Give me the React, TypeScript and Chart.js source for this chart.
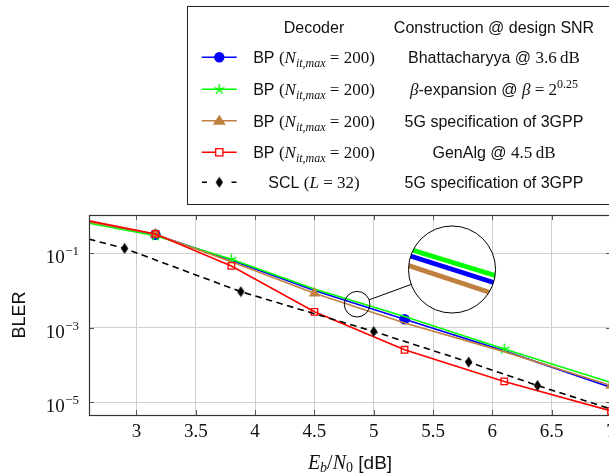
import React, { useEffect, useRef } from 'react';
import { Chart, registerables } from 'chart.js';

Chart.register(...registerables);

// ---------------- data ----------------
const ebn0BP = [2.6, 3.16, 3.8, 4.5, 5.26, 6.1, 7.0];
const blerBhattacharyya = [0.692, 0.316, 0.0646, 0.0100, 1.70e-3, 2.40e-4, 2.51e-5];
const blerBetaExpansion = [0.646, 0.295, 0.0692, 0.0110, 2.00e-3, 2.69e-4, 3.39e-5];
const blerFiveGBP = [0.692, 0.324, 0.0589, 8.51e-3, 1.35e-3, 2.29e-4, 2.82e-5];
const blerGenAlg = [0.741, 0.331, 0.0457, 2.69e-3, 2.57e-4, 3.63e-5, 5.89e-6];
const ebn0SCL = [2.6, 2.9, 3.88, 5.0, 5.8, 6.38, 7.0];
const blerSCL = [0.240, 0.135, 9.33e-3, 7.94e-4, 1.20e-4, 2.82e-5, 6.61e-6];

const xTickValues = [3, 3.5, 4, 4.5, 5, 5.5, 6, 6.5, 7];
const xTickLabels = ['3', '3.5', '4', '4.5', '5', '5.5', '6', '6.5', '7'];
const yTickValues = [1e-5, 1e-3, 1e-1];
const yTickExponents = ['\u22125', '\u22123', '\u22121'];

// marker indices (which points carry a mark)
const marksBhattacharyya = [1, 4];
const marksBeta = [1, 2, 5];
const marksFiveG = [1, 3, 6];
const marksGenAlg = [1, 2, 3, 4, 5, 6];
const marksSCL = [1, 2, 3, 4, 5];

// spy (magnifier) region in data coordinates
const spySource = { x: 4.86, y: 4.3e-3 };
const spyTarget = { x: 5.66, y: 0.0367 };

const SANS = '"Liberation Sans", Arial, Helvetica, sans-serif';
const SERIF = '"Liberation Serif", "Times New Roman", serif';

const COLORS = {
  blue: '#0000ff',
  green: '#00ff00',
  brown: '#bf8040',
  red: '#ff0000',
  black: '#000000',
};

const LINE_W = 1.6;

type Run = { t: string; f: string; dy?: number };

const bpRuns = (): Run[] => [
  { t: 'BP ', f: `16px ${SANS}` },
  { t: '(', f: `17px ${SERIF}` },
  { t: 'N', f: `italic 17px ${SERIF}` },
  { t: 'it,max', f: `italic 12px ${SERIF}`, dy: 4 },
  { t: ' = 200)', f: `17px ${SERIF}` },
];

const legendDecoders: Run[][] = [
  bpRuns(),
  bpRuns(),
  bpRuns(),
  bpRuns(),
  [
    { t: 'SCL ', f: `16px ${SANS}` },
    { t: '(', f: `17px ${SERIF}` },
    { t: 'L', f: `italic 17px ${SERIF}` },
    { t: ' = 32)', f: `17px ${SERIF}` },
  ],
];

const legendConstructions: Run[][] = [
  [
    { t: 'Bhattacharyya @ ', f: `16px ${SANS}` },
    { t: '3.6\u2009dB', f: `17px ${SERIF}` },
  ],
  [
    { t: '\u03b2', f: `italic 17px ${SERIF}` },
    { t: '-expansion @ ', f: `16px ${SANS}` },
    { t: '\u03b2', f: `italic 17px ${SERIF}` },
    { t: ' = 2', f: `17px ${SERIF}` },
    { t: '0.25', f: `12px ${SERIF}`, dy: -7 },
  ],
  [{ t: '5G specification of 3GPP', f: `16px ${SANS}` }],
  [
    { t: 'GenAlg @ ', f: `16px ${SANS}` },
    { t: '4.5\u2009dB', f: `17px ${SERIF}` },
  ],
  [{ t: '5G specification of 3GPP', f: `16px ${SANS}` }],
];

const legendStyles = ['circle', 'star', 'triangle', 'square', 'diamond'];
const legendColors = [COLORS.blue, COLORS.green, COLORS.brown, COLORS.red, COLORS.black];

function runsWidth(ctx: CanvasRenderingContext2D, runs: Run[]) {
  let w = 0;
  for (const r of runs) {
    ctx.font = r.f;
    w += ctx.measureText(r.t).width;
  }
  return w;
}

function drawRuns(ctx: CanvasRenderingContext2D, runs: Run[], cx: number, base: number) {
  const w = runsWidth(ctx, runs);
  let x = cx - w / 2;
  ctx.textAlign = 'left';
  ctx.textBaseline = 'alphabetic';
  for (const r of runs) {
    ctx.font = r.f;
    ctx.fillText(r.t, x, base + (r.dy || 0));
    x += ctx.measureText(r.t).width;
  }
}

function makeDiamond(color: string) {
  const c = document.createElement('canvas');
  c.width = 9;
  c.height = 12;
  const g = c.getContext('2d')!;
  g.fillStyle = color;
  g.beginPath();
  g.moveTo(4.5, 0.5);
  g.lineTo(8.2, 6);
  g.lineTo(4.5, 11.5);
  g.lineTo(0.8, 6);
  g.closePath();
  g.fill();
  return c;
}

function makeStar(color: string) {
  const c = document.createElement('canvas');
  c.width = 13;
  c.height = 13;
  const g = c.getContext('2d')!;
  g.strokeStyle = color;
  g.lineWidth = 1.4;
  g.beginPath();
  for (let k = 0; k < 5; k++) {
    const a = -Math.PI / 2 + (k * 2 * Math.PI) / 5;
    g.moveTo(6.5, 6.5);
    g.lineTo(6.5 + 5.5 * Math.cos(a), 6.5 + 5.5 * Math.sin(a));
  }
  g.stroke();
  return c;
}

function drawMarker(
  ctx: CanvasRenderingContext2D,
  style: string,
  color: string,
  x: number,
  y: number,
  images: { diamond: HTMLCanvasElement; star: HTMLCanvasElement }
) {
  ctx.save();
  ctx.setLineDash([]);
  ctx.fillStyle = color;
  ctx.strokeStyle = color;
  if (style === 'circle') {
    ctx.beginPath();
    ctx.arc(x, y, 5.2, 0, Math.PI * 2);
    ctx.fill();
  } else if (style === 'star') {
    ctx.drawImage(images.star, x - images.star.width / 2, y - images.star.height / 2);
  } else if (style === 'triangle') {
    ctx.beginPath();
    ctx.moveTo(x, y - 6);
    ctx.lineTo(x + 6.5, y + 4);
    ctx.lineTo(x - 6.5, y + 4);
    ctx.closePath();
    ctx.fill();
  } else if (style === 'square') {
    ctx.lineWidth = 1.3;
    ctx.fillStyle = '#ffffff';
    ctx.fillRect(x - 3.6, y - 3.6, 7.2, 7.2);
    ctx.strokeRect(x - 3.6, y - 3.6, 7.2, 7.2);
  } else if (style === 'diamond') {
    ctx.drawImage(images.diamond, x - images.diamond.width / 2, y - images.diamond.height / 2);
  }
  ctx.restore();
}

const CANVAS_W = 640;
const CANVAS_H = 473;

export default function App() {
  const ref = useRef<HTMLCanvasElement | null>(null);

  useEffect(() => {
    document.body.style.margin = '0';
    document.body.style.overflow = 'hidden';
    const canvas = ref.current!;
    const diamond = makeDiamond(COLORS.black);
    const star = makeStar(COLORS.green);

    const markRadius = (marks: number[], r: number) => (c: any) => (marks.includes(c.dataIndex) ? r : 0);

    const mk = (xs: number[], ys: number[]) => xs.map((x, i) => ({ x, y: ys[i] }));

    const decorations = {
      id: 'decorations',
      beforeDraw(chart: any) {
        const ctx = chart.ctx as CanvasRenderingContext2D;
        ctx.save();
        ctx.fillStyle = '#ffffff';
        ctx.fillRect(0, 0, chart.width, chart.height);
        ctx.restore();
      },
      afterDraw(chart: any) {
        const ctx = chart.ctx as CanvasRenderingContext2D;
        const area = chart.chartArea;
        const xs = chart.scales.x;
        const ys = chart.scales.y;

        // ---- spy / magnifier ----
        const zoom = 3.4;
        const rSmall = 12.8;
        const sx = xs.getPixelForValue(spySource.x);
        const sy = ys.getPixelForValue(spySource.y);
        const tx = xs.getPixelForValue(spyTarget.x);
        const ty = ys.getPixelForValue(spyTarget.y);
        const rBig = rSmall * zoom;
        ctx.save();
        ctx.beginPath();
        ctx.arc(tx, ty, rBig, 0, Math.PI * 2);
        ctx.fillStyle = '#ffffff';
        ctx.fill();
        ctx.clip();
        const drawOrder = [0, 1, 2, 3, 4];
        for (const i of drawOrder) {
          const ds = chart.data.datasets[i];
          const meta = chart.getDatasetMeta(i);
          ctx.beginPath();
          meta.data.forEach((p: any, j: number) => {
            const X = tx + (p.x - sx) * zoom;
            const Y = ty + (p.y - sy) * zoom;
            if (j === 0) ctx.moveTo(X, Y);
            else ctx.lineTo(X, Y);
          });
          ctx.lineWidth = ds.borderWidth * zoom * 0.9;
          ctx.strokeStyle = ds.borderColor;
          ctx.setLineDash((ds.borderDash || []).map((d: number) => d * zoom));
          ctx.stroke();
        }
        ctx.restore();
        ctx.save();
        ctx.strokeStyle = '#000000';
        ctx.lineWidth = 1;
        ctx.beginPath();
        ctx.arc(sx, sy, rSmall, 0, Math.PI * 2);
        ctx.stroke();
        ctx.beginPath();
        ctx.arc(tx, ty, rBig, 0, Math.PI * 2);
        ctx.stroke();
        const dx = tx - sx;
        const dy = ty - sy;
        const d = Math.hypot(dx, dy);
        ctx.beginPath();
        ctx.moveTo(sx + (dx / d) * rSmall, sy + (dy / d) * rSmall);
        ctx.lineTo(tx - (dx / d) * rBig, ty - (dy / d) * rBig);
        ctx.stroke();
        ctx.restore();

        // ---- axis frame and tick marks ----
        ctx.save();
        ctx.strokeStyle = '#555555';
        ctx.lineWidth = 1;
        ctx.beginPath();
        for (const v of xTickValues) {
          const px = Math.round(xs.getPixelForValue(v)) + 0.5;
          ctx.moveTo(px, area.bottom);
          ctx.lineTo(px, area.bottom - 5);
          ctx.moveTo(px, area.top);
          ctx.lineTo(px, area.top + 5);
        }
        for (const v of yTickValues) {
          const py = Math.round(ys.getPixelForValue(v)) + 0.5;
          ctx.moveTo(area.left, py);
          ctx.lineTo(area.left + 5, py);
          ctx.moveTo(area.right, py);
          ctx.lineTo(area.right - 5, py);
        }
        ctx.stroke();
        ctx.strokeStyle = '#333333';
        ctx.lineWidth = 1.2;
        ctx.strokeRect(area.left + 0.5, area.top + 0.5, area.right - area.left - 1, area.bottom - area.top);
        ctx.restore();

        // ---- tick labels ----
        ctx.save();
        ctx.fillStyle = '#111111';
        ctx.textBaseline = 'alphabetic';
        ctx.textAlign = 'center';
        ctx.font = `19px ${SERIF}`;
        xTickValues.forEach((v, i) => {
          ctx.fillText(xTickLabels[i], xs.getPixelForValue(v), 437);
        });
        yTickValues.forEach((v, i) => {
          const py = ys.getPixelForValue(v);
          const right = 79;
          ctx.textAlign = 'right';
          ctx.font = `13px ${SERIF}`;
          const ew = ctx.measureText(yTickExponents[i]).width;
          ctx.fillText(yTickExponents[i], right, py + 2);
          ctx.font = `19px ${SERIF}`;
          ctx.fillText('10', right - ew - 0.5, py + 10);
        });
        ctx.restore();

        // ---- axis titles ----
        ctx.save();
        ctx.fillStyle = '#111111';
        ctx.translate(18.3, (area.top + area.bottom) / 2);
        ctx.rotate(-Math.PI / 2);
        ctx.textAlign = 'center';
        ctx.textBaseline = 'alphabetic';
        ctx.font = `18px ${SANS}`;
        ctx.fillText('BLER', 0, 6.5);
        ctx.restore();

        ctx.save();
        ctx.fillStyle = '#111111';
        drawRuns(
          ctx,
          [
            { t: 'E', f: `italic 20px ${SERIF}` },
            { t: 'b', f: `italic 14px ${SERIF}`, dy: 3 },
            { t: '/', f: `20px ${SERIF}` },
            { t: 'N', f: `italic 20px ${SERIF}` },
            { t: '0', f: `14px ${SERIF}`, dy: 3 },
            { t: ' [dB]', f: `19px ${SANS}` },
          ],
          (area.left + area.right) / 2,
          469
        );
        ctx.restore();

        // ---- legend ----
        ctx.save();
        ctx.fillStyle = '#ffffff';
        ctx.fillRect(187.5, 6.5, 600, 198);
        ctx.strokeStyle = '#222222';
        ctx.lineWidth = 1;
        ctx.strokeRect(187.5, 6.5, 600, 198);
        ctx.fillStyle = '#111111';
        const col1 = 314;
        const col2 = 494;
        ctx.font = `16px ${SANS}`;
        ctx.textAlign = 'center';
        ctx.textBaseline = 'alphabetic';
        ctx.fillText('Decoder', col1, 33.3);
        ctx.fillText('Construction @ design SNR', col2, 33.3);
        const rowY = [57.3, 89.3, 120.7, 152.3, 182.3];
        rowY.forEach((y, i) => {
          const color = legendColors[i];
          ctx.save();
          ctx.strokeStyle = color;
          ctx.lineWidth = LINE_W;
          ctx.beginPath();
          if (i === 4) {
            ctx.moveTo(202, y);
            ctx.lineTo(207, y);
            ctx.moveTo(231.5, y);
            ctx.lineTo(236.5, y);
          } else {
            ctx.moveTo(201.7, y);
            ctx.lineTo(236.7, y);
          }
          ctx.stroke();
          ctx.restore();
          drawMarker(ctx, legendStyles[i], color, 219.3, y, { diamond, star });
          ctx.fillStyle = '#111111';
          drawRuns(ctx, legendDecoders[i], col1, y + 6);
          drawRuns(ctx, legendConstructions[i], col2, y + 6);
        });
        ctx.restore();
      },
    };

    const chart = new Chart(canvas, {
      type: 'scatter',
      data: {
        datasets: [
          {
            label: 'BP, Bhattacharyya @ 3.6 dB',
            data: mk(ebn0BP, blerBhattacharyya),
            showLine: true,
            borderColor: COLORS.blue,
            backgroundColor: COLORS.blue,
            borderWidth: LINE_W,
            pointStyle: 'circle',
            pointRadius: markRadius(marksBhattacharyya, 5.3),
            pointBorderWidth: 0,
            order: 5,
          },
          {
            label: 'BP, beta-expansion',
            data: mk(ebn0BP, blerBetaExpansion),
            showLine: true,
            borderColor: COLORS.green,
            backgroundColor: COLORS.green,
            borderWidth: LINE_W,
            pointStyle: star as any,
            pointRadius: markRadius(marksBeta, 5.5),
            order: 4,
          },
          {
            label: 'BP, 5G 3GPP',
            data: mk(ebn0BP, blerFiveGBP),
            showLine: true,
            borderColor: COLORS.brown,
            backgroundColor: COLORS.brown,
            borderWidth: LINE_W,
            pointStyle: 'triangle',
            pointRadius: markRadius(marksFiveG, 6.5),
            pointBorderWidth: 0,
            order: 3,
          },
          {
            label: 'BP, GenAlg @ 4.5 dB',
            data: mk(ebn0BP, blerGenAlg),
            showLine: true,
            borderColor: COLORS.red,
            backgroundColor: 'rgba(0,0,0,0)',
            borderWidth: LINE_W,
            pointStyle: 'rect',
            pointRadius: markRadius(marksGenAlg, 4.6),
            pointBorderWidth: 1.3,
            pointBorderColor: COLORS.red,
            order: 2,
          },
          {
            label: 'SCL (L=32), 5G 3GPP',
            data: mk(ebn0SCL, blerSCL),
            showLine: true,
            borderColor: COLORS.black,
            backgroundColor: COLORS.black,
            borderWidth: LINE_W,
            borderDash: [6.5, 4.5],
            pointStyle: diamond as any,
            pointRadius: markRadius(marksSCL, 5),
            order: 1,
          },
        ] as any,
      },
      options: {
        responsive: false,
        animation: false,
        devicePixelRatio: 1,
        events: [],
        layout: { padding: { left: 89, top: 215, right: CANVAS_W - 611, bottom: CANVAS_H - 415 } },
        plugins: { legend: { display: false }, tooltip: { enabled: false } },
        elements: { line: { tension: 0 } },
        scales: {
          x: {
            type: 'linear',
            min: 2.6,
            max: 7,
            afterBuildTicks: (s: any) => {
              s.ticks = xTickValues.map((v) => ({ value: v }));
            },
            ticks: { display: false },
            grid: { color: '#d0d0d0', lineWidth: 1, drawTicks: false },
            border: { display: false },
          },
          y: {
            type: 'logarithmic',
            min: 4.56e-6,
            max: 1.066,
            afterBuildTicks: (s: any) => {
              s.ticks = yTickValues.map((v) => ({ value: v }));
            },
            ticks: { display: false },
            grid: { color: '#d0d0d0', lineWidth: 1, drawTicks: false },
            border: { display: false },
          },
        },
      } as any,
      plugins: [decorations],
    });

    return () => chart.destroy();
  }, []);

  return (
    <div style={{ width: 609, height: 473, overflow: 'hidden', position: 'relative' }}>
      <canvas ref={ref} width={CANVAS_W} height={CANVAS_H} style={{ display: 'block' }} />
    </div>
  );
}
